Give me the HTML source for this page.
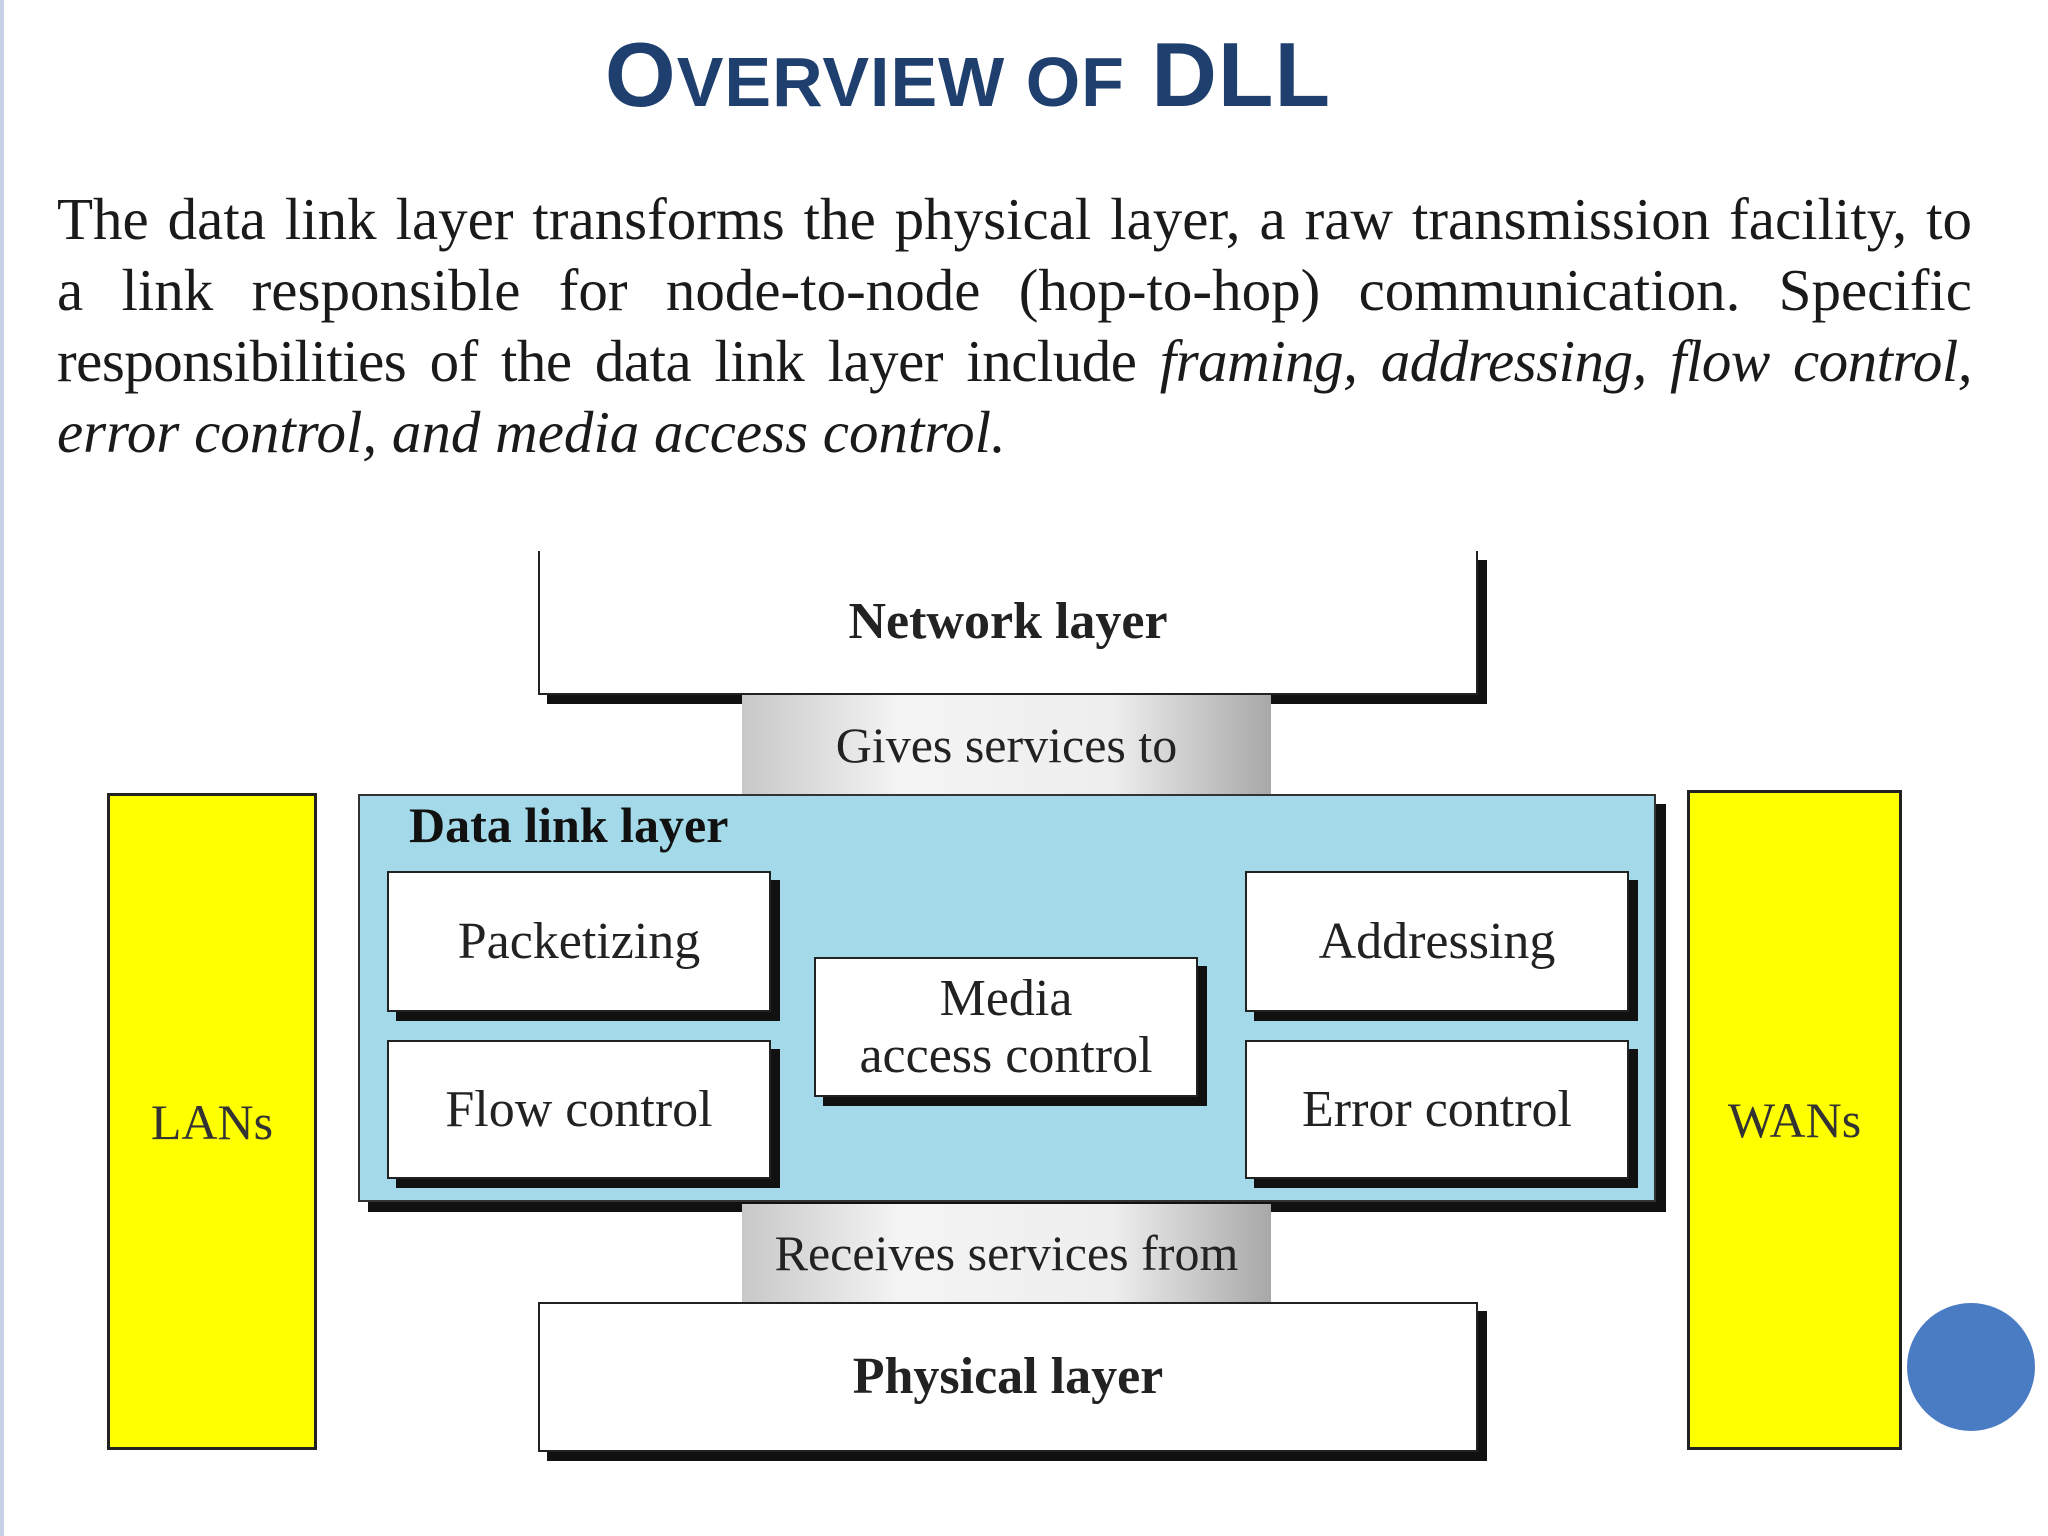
<!DOCTYPE html>
<html><head><meta charset="utf-8"><style>
body{margin:0;width:2048px;height:1536px;background:#fff;position:relative;overflow:hidden;font-family:"Liberation Serif",serif;}
.a{position:absolute;box-sizing:border-box}
.box{position:absolute;box-sizing:border-box;background:#fff;border:2px solid #222;box-shadow:9px 9px 0 #111;display:flex;align-items:center;justify-content:center;text-align:center;font-size:52px;color:#222;line-height:1.1}
.svc{position:absolute;box-sizing:border-box;background:linear-gradient(90deg,#c8c8c8,#f4f4f4 30%,#eeeeee 70%,#a8a8a8);display:flex;align-items:center;justify-content:center;font-size:50px;color:#222}
.side{position:absolute;box-sizing:border-box;background:#ffff00;border:3px solid #222;display:flex;align-items:center;justify-content:center;font-size:50px;color:#333}
</style></head><body>
<div class="a" style="left:0;top:0;width:4px;height:1536px;background:#c8cfe6"></div>
<div class="a" style="left:0;top:30px;width:2048px;text-align:center;font-family:'Liberation Sans',sans-serif;font-weight:bold;color:#1f3f6e;font-size:91px;line-height:1;letter-spacing:1px"><span style="position:relative;left:-56px">O<span style="font-size:70px">VERVIEW OF</span> DLL</span></div>
<div class="a" style="left:57px;top:184px;width:1915px;font-size:59px;line-height:71px;color:#1a1a1a">
<div style="text-align:justify;text-align-last:justify">The data link layer transforms the physical layer, a raw transmission facility, to</div>
<div style="text-align:justify;text-align-last:justify">a link responsible for node-to-node (hop-to-hop) communication. Specific</div>
<div style="text-align:justify;text-align-last:justify;letter-spacing:-0.5px">responsibilities of the data link layer include <i>framing, addressing, flow control,</i></div>
<div><i>error control, and media access control.</i></div>
</div>

<div class="side" style="left:107px;top:793px;width:210px;height:657px">LANs</div>
<div class="side" style="left:1687px;top:790px;width:215px;height:660px">WANs</div>

<div class="box" style="left:538px;top:551px;width:940px;height:144px;font-weight:bold;border-top:none">Network layer</div>
<div class="svc" style="left:742px;top:695px;width:529px;height:99px">Gives services to</div>
<div class="a" style="left:358px;top:794px;width:1298px;height:408px;background:#a3d9e8;border:2px solid #333;box-shadow:10px 10px 0 #111"></div>
<div class="a" style="left:409px;top:796px;font-size:50px;font-weight:bold;color:#111">Data link layer</div>
<div class="box" style="left:387px;top:871px;width:384px;height:141px">Packetizing</div>
<div class="box" style="left:387px;top:1040px;width:384px;height:139px">Flow control</div>
<div class="box" style="left:1245px;top:871px;width:384px;height:141px">Addressing</div>
<div class="box" style="left:1245px;top:1040px;width:384px;height:139px">Error control</div>
<div class="box" style="left:814px;top:957px;width:384px;height:140px">Media<br>access control</div>
<div class="svc" style="left:742px;top:1204px;width:529px;height:98px">Receives services from</div>
<div class="box" style="left:538px;top:1302px;width:940px;height:150px;font-weight:bold">Physical layer</div>
<div class="a" style="left:1907px;top:1303px;width:128px;height:128px;border-radius:50%;background:#4a7cc4"></div>
</body></html>
